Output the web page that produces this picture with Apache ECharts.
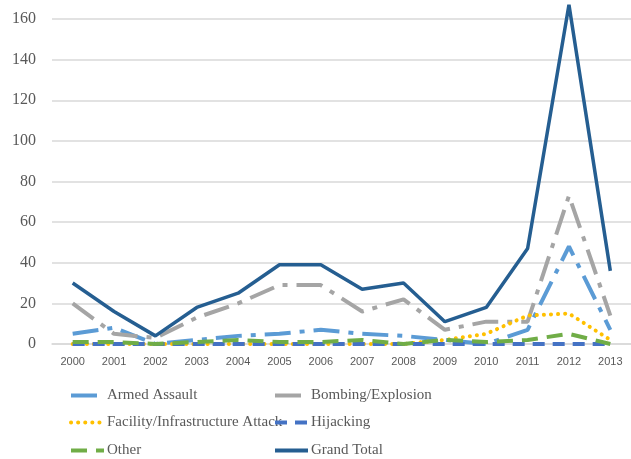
<!DOCTYPE html>
<html>
<head>
<meta charset="utf-8">
<script src="https://cdn.jsdelivr.net/npm/echarts@6/dist/echarts.min.js"></script>
<style>
  html, body { margin: 0; padding: 0; background: #fff; }
  #chart { width: 631px; height: 459px; }
</style>
</head>
<body>
<div id="chart"></div>
<script>
var years = ["2000", "2001", "2002", "2003", "2004", "2005", "2006", "2007", "2008", "2009", "2010", "2011", "2012", "2013"];
var armedAssault = [5, 8, 0, 2, 4, 5, 7, 5, 4, 2, 0, 7, 48, 7];
var bombing = [20, 5, 3, 13, 20, 29, 29, 16, 22, 7, 11, 11, 73, 14];
var facility = [0, 0, 0, 0, 0, 0, 0, 0, 0, 2, 5, 14, 15, 2];
var hijacking = [0, 0, 0, 0, 0, 0, 0, 0, 0, 0, 0, 0, 0, 0];
var other = [1, 1, 0, 1, 2, 1, 1, 2, 0, 2, 1, 2, 5, 0];
var grandTotal = [30, 16, 4, 18, 25, 39, 39, 27, 30, 11, 18, 47, 167, 36];
var yTicks = [0, 20, 40, 60, 80, 100, 120, 140, 160];

var chart = echarts.init(document.getElementById("chart"));

function mkLine(name, data, color, width, dash, cap) {
  return {
    name: name,
    type: "line",
    data: data,
    symbol: "none",
    clip: false,
    lineStyle: { color: color, width: width, type: dash, cap: cap || "butt" },
    itemStyle: { color: color }
  };
}

// one legend box per entry, laid out in two columns like the original
function mkLegend(name, left, top) {
  return {
    left: left,
    top: top,
    padding: 0,
    itemWidth: 33,
    itemHeight: 8,
    itemGap: 3,
    itemStyle: { opacity: 0 },
    lineStyle: { width: 4 },
    textStyle: { fontFamily: "Liberation Serif", fontSize: 15, color: "#595959", padding: [0, 0, 0, -2] },
    data: [name]
  };
}

var option = {
  animation: false,
  grid: { left: 52, right: 0, top: 19, height: 325 },
  legend: [
    mkLegend("Armed Assault", 69, 388),
    mkLegend("Facility/Infrastructure Attack", 69, 415),
    mkLegend("Other", 69, 443),
    mkLegend("Bombing/Explosion", 273, 388),
    mkLegend("Hijacking", 273, 415),
    mkLegend("Grand Total", 273, 443)
  ],
  xAxis: {
    type: "category",
    data: years,
    boundaryGap: true,
    axisTick: { show: false },
    axisLine: { show: true, lineStyle: { color: "#D9D9D9", width: 1.5 } },
    axisLabel: { fontFamily: "Liberation Sans", fontSize: 11, color: "#595959", margin: 12 }
  },
  yAxis: {
    type: "value",
    min: 0,
    max: 160,
    interval: 20,
    axisLine: { show: false },
    axisTick: { show: false },
    splitLine: { lineStyle: { color: "#D9D9D9", width: 1.5 } },
    axisLabel: {
      fontFamily: "Liberation Serif",
      fontSize: 16,
      color: "#595959",
      margin: 16,
      formatter: function (v) { return yTicks.indexOf(v) >= 0 ? String(v) : ""; }
    }
  },
  series: [
    mkLine("Armed Assault", armedAssault, "#5B9BD5", 4, [26, 9, 5, 9]),
    mkLine("Bombing/Explosion", bombing, "#A5A5A5", 4, [26, 9, 5, 9]),
    mkLine("Facility/Infrastructure Attack", facility, "#FFC000", 4, [0.1, 7], "round"),
    mkLine("Hijacking", hijacking, "#4472C4", 4, [12, 8]),
    mkLine("Other", other, "#70AD47", 4, [16, 9]),
    mkLine("Grand Total", grandTotal, "#255E91", 3.5, "solid")
  ]
};

chart.setOption(option);
</script>
</body>
</html>
